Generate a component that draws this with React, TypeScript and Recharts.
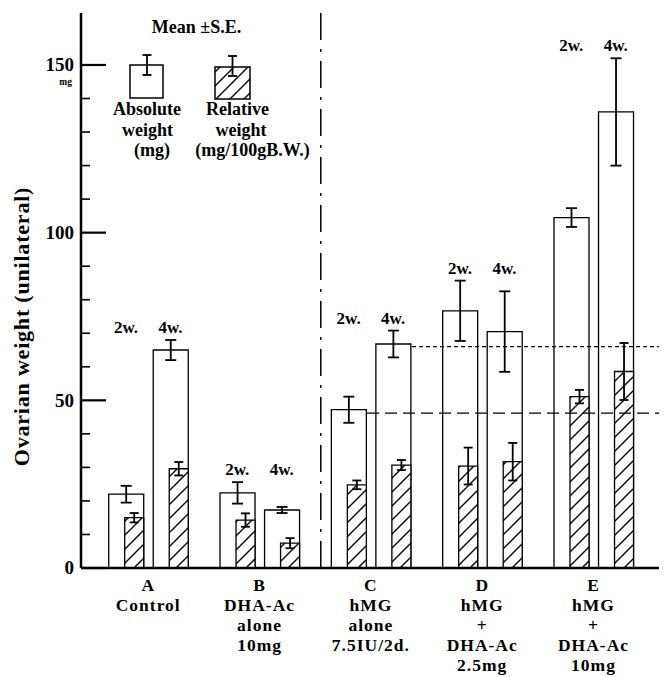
import {
  BarChart,
  Bar,
  XAxis,
  YAxis,
  ErrorBar,
  ReferenceLine,
  ReferenceDot,
  Legend,
} from "recharts";

const FONT = '"Liberation Serif", "Times New Roman", serif';

const groups = ["A", "B", "C", "D", "E"];
const groupLines = [
  ["A", "Control"],
  ["B", "DHA-Ac", "alone", "10mg"],
  ["C", "hMG", "alone", "7.5IU/2d."],
  ["D", "hMG", "+", "DHA-Ac", "2.5mg"],
  ["E", "hMG", "+", "DHA-Ac", "10mg"],
];
const weeks = ["2w.", "4w."];

// order: A2w, A4w, B2w, B4w, C2w, C4w, D2w, D4w, E2w, E4w
const absMean = [22, 65, 22.4, 17.3, 47.2, 66.8, 76.7, 70.5, 104.5, 136];
const absSE = [2.5, 3, 3.2, 0.9, 3.9, 4, 9, 12, 2.8, 16];
const relMean = [15, 29.6, 14.3, 7.4, 24.8, 30.7, 30.4, 31.7, 51.1, 58.6];
const relSE = [1.4, 2, 2, 1.5, 1.3, 1.5, 5.5, 5.6, 2, 8.5];

// hMG alone levels carried across (4w dotted, 2w dashed)
const hmgLevel4w = 66;
const hmgLevel2w = 46.2;

const yTicks = [0, 10, 20, 30, 40, 50, 60, 70, 80, 90, 100, 110, 120, 130, 140, 150];

const data = absMean.map((v, i) => {
  const g = Math.floor(i / 2);
  const w = i % 2;
  return {
    pos: g * 5 + w * 2,
    group: g,
    week: weeks[w],
    abs: v,
    absErr: absSE[i],
    rel: relMean[i],
    relErr: relSE[i],
  };
});

const groupCenters = groups.map((_, g) => g * 5 + 1);
const groupTop = groups.map((_, g) =>
  Math.max(...data.filter((d) => d.group === g).map((d) => d.abs + d.absErr))
);

const X_DOMAIN: [number, number] = [-2.02, 24.3];

const serif = { fontFamily: FONT, fontWeight: "bold" as const };

function GroupTick(props: any) {
  const { x, y, payload } = props;
  const g = groupCenters.indexOf(payload.value);
  const lines = groupLines[g] || [];
  return (
    <text
      x={x}
      y={y}
      textAnchor="middle"
      style={{ ...serif, fontSize: 17.5, letterSpacing: 1 }}
      fill="#000"
    >
      {lines.map((l, i) => (
        <tspan key={i} x={x} dy={i === 0 ? 23 : 20}>
          {l}
        </tspan>
      ))}
    </text>
  );
}

function WeightTick(props: any) {
  const { x, y, payload } = props;
  const v = payload.value;
  const major = v % 50 === 0;
  const ax = x + 6;
  return (
    <g>
      <line
        x1={ax}
        x2={ax + (major ? 25 : 9)}
        y1={y}
        y2={y}
        stroke="#000"
        strokeWidth={major ? 2.2 : 1.6}
      />
      {major && (
        <text
          x={x - 1}
          y={y}
          dy="0.34em"
          textAnchor="end"
          style={{ ...serif, fontSize: 19 }}
          fill="#000"
        >
          {v}
        </text>
      )}
      {v === 150 && (
        <text
          x={x - 3}
          y={y + 20}
          textAnchor="end"
          style={{ ...serif, fontSize: 9.5 }}
          fill="#000"
        >
          mg
        </text>
      )}
    </g>
  );
}

function YTitle(props: any) {
  const { viewBox } = props;
  const cx = viewBox.x + 8;
  const cy = viewBox.y + viewBox.height / 2 + 36;
  return (
    <text
      x={cx}
      y={cy}
      transform={`rotate(-90 ${cx} ${cy})`}
      textAnchor="middle"
      style={{ ...serif, fontSize: 22, letterSpacing: 0.8 }}
      fill="#000"
    >
      Ovarian weight (unilateral)
    </text>
  );
}

function WeekLabel(props: any) {
  const { viewBox, value } = props;
  const cx = viewBox.x + viewBox.width / 2;
  return (
    <text
      x={cx}
      y={viewBox.y - 7}
      textAnchor="middle"
      style={{ ...serif, fontSize: 17 }}
      fill="#000"
    >
      {value}
    </text>
  );
}

function WeightKey() {
  const t = { style: { ...serif, fontSize: 18 }, fill: "#000" };
  return (
    <svg width={230} height={150} style={{ display: "block", overflow: "visible" }}>
      <text x={78.5} y={18} textAnchor="middle" {...t}>
        Mean ±S.E.
      </text>
      <rect x={12} y={50} width={33} height={33} fill="#fff" stroke="#000" strokeWidth={1.5} />
      <line x1={29} x2={29} y1={40} y2={60} stroke="#000" strokeWidth={1.8} />
      <line x1={24.5} x2={33.5} y1={40} y2={40} stroke="#000" strokeWidth={1.8} />
      <line x1={24.5} x2={33.5} y1={60} y2={60} stroke="#000" strokeWidth={1.8} />
      <rect x={97} y={52} width={35} height={32} fill="url(#hatch)" stroke="#000" strokeWidth={1.5} />
      <line x1={114.5} x2={114.5} y1={41} y2={61} stroke="#000" strokeWidth={1.8} />
      <line x1={110} x2={119} y1={41} y2={41} stroke="#000" strokeWidth={1.8} />
      <line x1={110} x2={119} y1={61} y2={61} stroke="#000" strokeWidth={1.8} />
      <text x={29} y={100} textAnchor="middle" {...t}>Absolute</text>
      <text x={29.5} y={121} textAnchor="middle" {...t}>weight</text>
      <text x={34} y={141} textAnchor="middle" {...t}>(mg)</text>
      <text x={119.5} y={100} textAnchor="middle" {...t}>Relative</text>
      <text x={123} y={121} textAnchor="middle" {...t}>weight</text>
      <text x={134.5} y={141} textAnchor="middle" {...t}>(mg/100gB.W.)</text>
    </svg>
  );
}

export default function App() {
  return (
    <div style={{ fontFamily: FONT }}>
      <style>{"body{overflow:hidden}"}</style>
      <BarChart
        width={659}
        height={669}
        data={data}
        margin={{ top: 5, right: 0, left: 13, bottom: 0 }}
        barGap={-19}
        style={{ fontFamily: FONT }}
      >
        <defs>
          <pattern id="hatch" patternUnits="userSpaceOnUse" width={14} height={14}>
            <rect width={14} height={14} fill="#fff" />
            <path d="M0,14 L14,0 M-3,3 L3,-3 M11,17 L17,11" stroke="#000" strokeWidth={1.4} />
          </pattern>
        </defs>
        <XAxis
          type="number"
          dataKey="pos"
          domain={X_DOMAIN}
          allowDataOverflow
          ticks={groupCenters}
          interval={0}
          tick={<GroupTick />}
          tickLine={false}
          tickSize={0}
          tickMargin={0}
          height={109}
          axisLine={{ stroke: "#000", strokeWidth: 2.5 }}
        />
        <YAxis
          domain={[0, 165.5]}
          allowDataOverflow
          ticks={yTicks}
          interval={0}
          width={60}
          tick={<WeightTick />}
          tickLine={false}
          tickSize={0}
          tickMargin={6}
          axisLine={{ stroke: "#000", strokeWidth: 2.5 }}
          label={{ content: (p: any) => <YTitle {...p} /> }}
        />
        <Legend
          layout="horizontal"
          verticalAlign="middle"
          align="center"
          content={() => <WeightKey />}
          wrapperStyle={{ left: 110, top: 7, width: 230, height: 150 }}
        />
        <Bar
          dataKey="abs"
          barSize={35}
          fill="#fff"
          stroke="#000"
          strokeWidth={1.3}
          isAnimationActive={false}
        >
          <ErrorBar dataKey="absErr" width={5.5} stroke="#000" strokeWidth={1.8} />
        </Bar>
        <Bar
          dataKey="rel"
          barSize={19}
          fill="url(#hatch)"
          stroke="#000"
          strokeWidth={1.3}
          isAnimationActive={false}
        >
          <ErrorBar dataKey="relErr" width={4.5} stroke="#000" strokeWidth={1.8} />
        </Bar>
        <ReferenceLine
          x={8.75}
          stroke="#000"
          strokeWidth={1.5}
          strokeDasharray="27 9 3 9"
        />
        <ReferenceLine
          segment={[
            { x: 12.85, y: hmgLevel4w },
            { x: X_DOMAIN[1], y: hmgLevel4w },
          ]}
          stroke="#000"
          strokeWidth={1.2}
          strokeDasharray="4 3"
        />
        <ReferenceLine
          segment={[
            { x: 10.83, y: hmgLevel2w },
            { x: X_DOMAIN[1], y: hmgLevel2w },
          ]}
          stroke="#000"
          strokeWidth={1.2}
          strokeDasharray="12 6"
        />
        {data.map((d, i) => (
          <ReferenceDot
            key={i}
            x={d.pos}
            y={groupTop[d.group]}
            r={0}
            fill="none"
            stroke="none"
            ifOverflow="visible"
            label={{
              value: d.week,
              content: (p: any) => <WeekLabel {...p} value={d.week} />,
            }}
          />
        ))}
      </BarChart>
    </div>
  );
}
